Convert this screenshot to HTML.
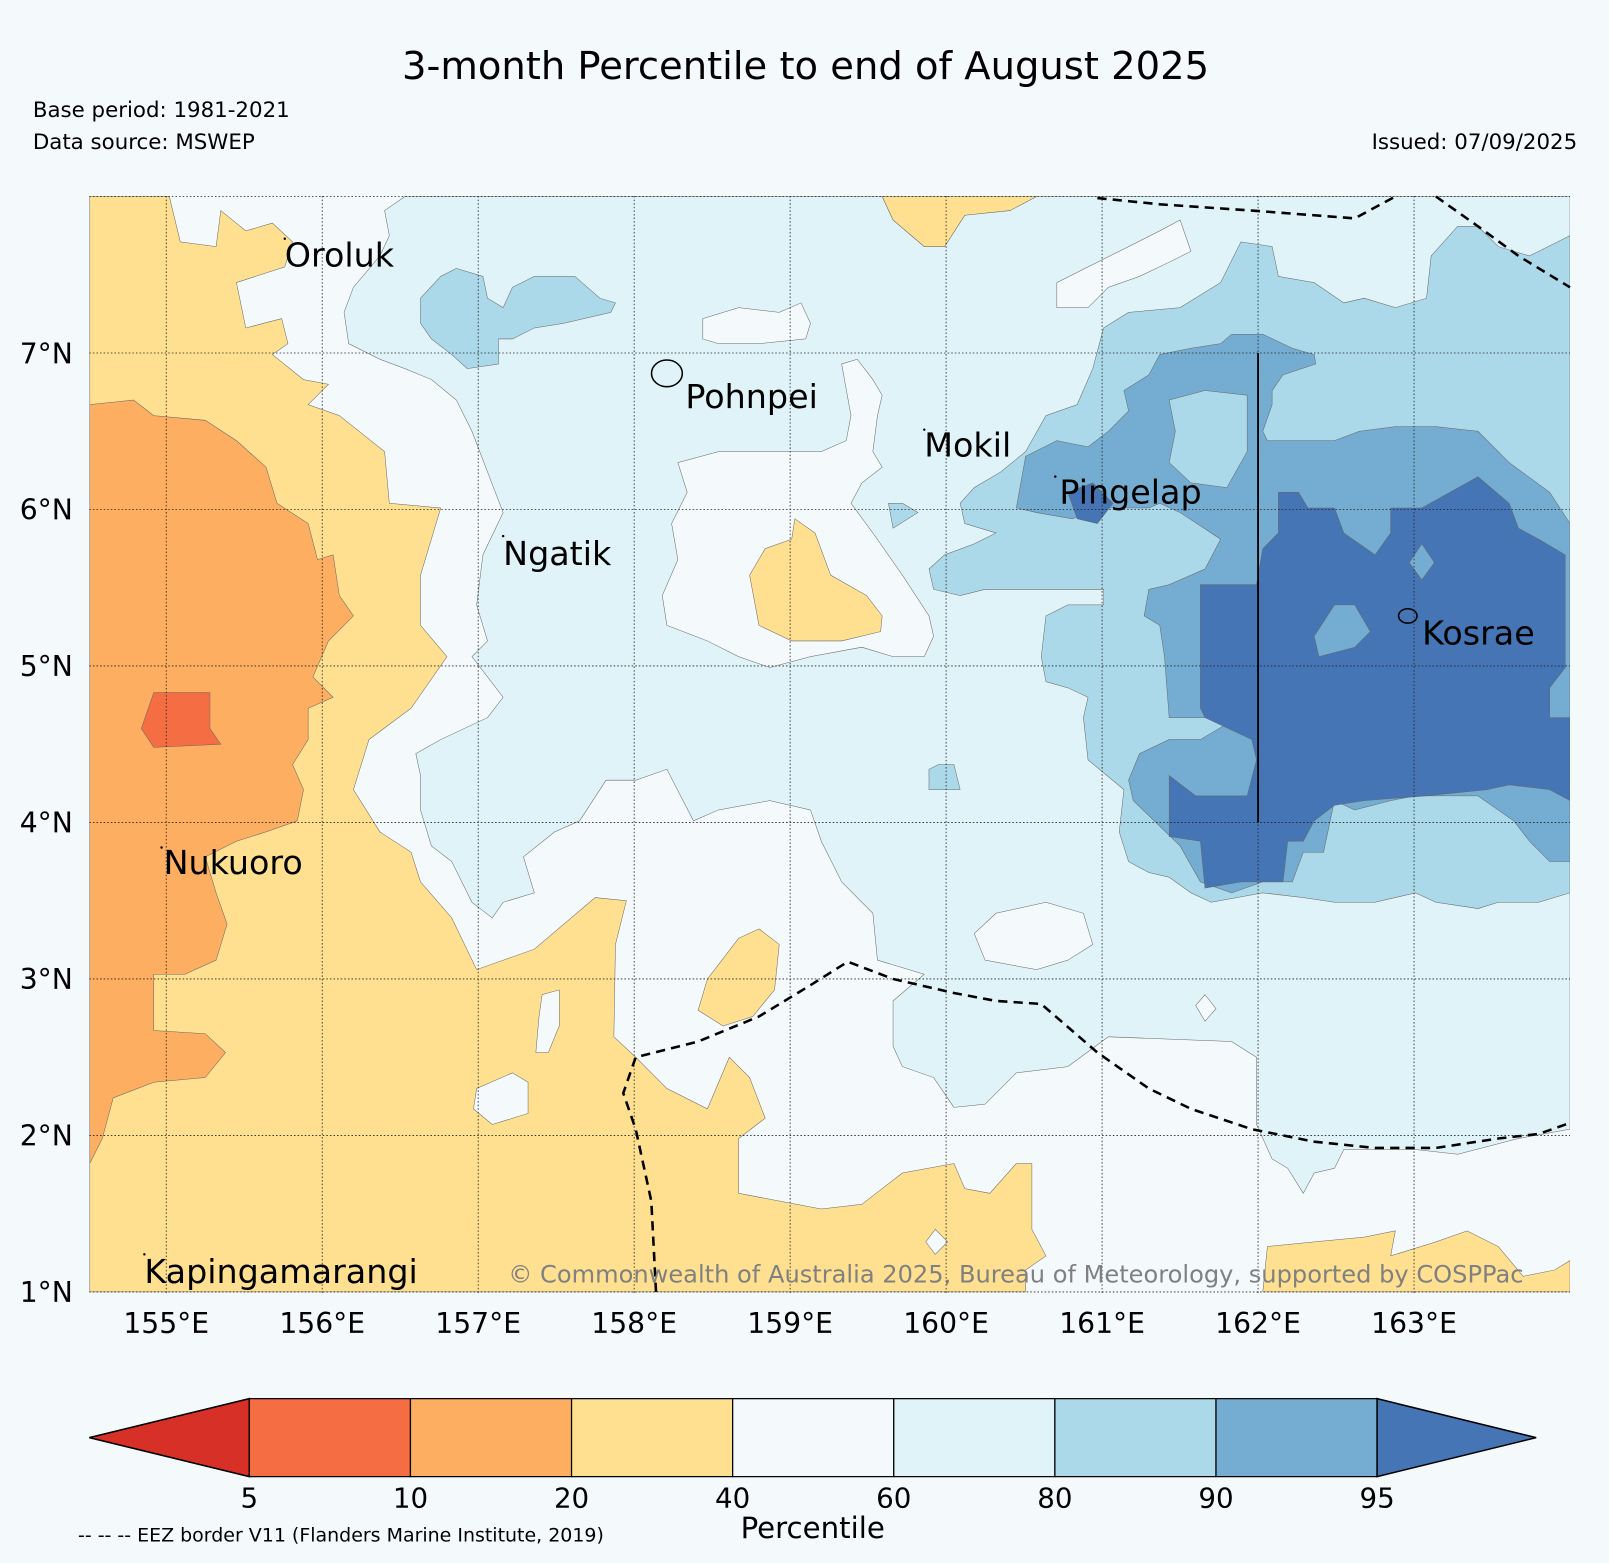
<!DOCTYPE html>
<html><head><meta charset="utf-8"><style>
html,body{margin:0;padding:0;background:#f4f9fc;}
svg{display:block;font-family:"DejaVu Sans","Liberation Sans",sans-serif;}
</style></head><body>
<svg id="chart" width="1609" height="1563" viewBox="0 0 1609 1563" xmlns="http://www.w3.org/2000/svg">
<rect width="1609" height="1563" fill="#f4f9fc"/>
<defs><clipPath id="mapclip"><rect x="87" y="191" width="1443" height="1069"/></clipPath></defs>
<g transform="scale(1.02615)">
<text x="785" y="77" font-size="37.5" text-anchor="middle">3-month Percentile to end of August 2025</text>
<text x="32" y="114" font-size="20.8">Base period: 1981-2021</text>
<text x="32" y="145" font-size="20.8">Data source: MSWEP</text>
<text x="1537" y="145" font-size="20.8" text-anchor="end">Issued: 07/09/2025</text>
<g id="map" clip-path="url(#mapclip)"></g>
<g id="overlay"></g>
<g id="axes"></g>
<g id="cbar"></g>
<text x="76" y="1502" font-size="18.5">-- -- -- EEZ border V11 (Flanders Marine Institute, 2019)</text>
</g>
</svg>
<script>
// ---- data (lon, lat pairs) ----
const lonTicks = [155,156,157,158,159,160,161,162,163];
const latTicks = [1,2,3,4,5,6,7];
const cbarBounds = [5,10,20,40,60,80,90,95];
const cbarColors = ["#d73027","#f46d43","#fdae61","#fee090","#f4f9fc","#e0f3f8","#abd9e9","#74add1","#4575b4"];
const cls = {white:"#f4f9fc",lb:"#e0f3f8",mb:"#abd9e9",b:"#74add1",db:"#4575b4",y:"#fee090",o:"#fdae61",r:"#f46d43"};

const lightBlueMain = [[156.40,7.91],[156.53,8.0],[159.59,8.0],[159.66,7.85],[159.86,7.68],[159.99,7.68],[160.12,7.88],[160.58,8.0],[164.0,8.0],[164.0,2.04],[163.67,1.98],[163.28,1.88],[163.01,1.91],[162.55,1.91],[162.49,1.79],[162.36,1.76],[162.29,1.63],[162.19,1.79],[162.09,1.85],[161.99,2.07],[161.99,2.50],[161.83,2.60],[161.04,2.63],[160.78,2.44],[160.45,2.40],[160.25,2.20],[160.05,2.18],[159.92,2.37],[159.72,2.44],[159.66,2.57],[159.66,2.86],[159.86,3.03],[159.56,3.12],[159.53,3.42],[159.33,3.62],[159.20,3.88],[159.13,4.08],[158.87,4.14],[158.54,4.08],[158.38,4.01],[158.21,4.34],[158.01,4.27],[157.82,4.27],[157.65,4.01],[157.49,3.94],[157.29,3.78],[157.36,3.55],[157.16,3.49],[157.09,3.39],[156.96,3.49],[156.83,3.75],[156.70,3.85],[156.63,4.08],[156.63,4.30],[156.60,4.44],[156.76,4.53],[157.06,4.67],[157.16,4.80],[156.96,5.06],[157.06,5.16],[156.99,5.39],[157.03,5.71],[157.16,5.98],[157.06,6.24],[156.96,6.50],[156.86,6.70],[156.70,6.83],[156.53,6.90],[156.37,6.96],[156.17,7.06],[156.14,7.26],[156.20,7.42],[156.37,7.62],[156.43,7.75]];
const whiteCentral = [[158.28,6.30],[158.54,6.37],[158.93,6.37],[159.20,6.37],[159.36,6.44],[159.39,6.60],[159.33,6.93],[159.43,6.96],[159.53,6.83],[159.59,6.73],[159.56,6.60],[159.53,6.37],[159.59,6.27],[159.46,6.17],[159.39,6.04],[159.53,5.85],[159.72,5.58],[159.89,5.32],[159.92,5.19],[159.86,5.06],[159.66,5.06],[159.46,5.12],[159.13,5.06],[158.87,4.99],[158.67,5.06],[158.47,5.16],[158.21,5.26],[158.18,5.45],[158.28,5.68],[158.24,5.91],[158.34,6.11]];
const whitePohnpei = [[158.44,7.22],[158.67,7.29],[158.93,7.26],[159.07,7.32],[159.13,7.19],[159.10,7.09],[158.80,7.06],[158.54,7.06],[158.44,7.09]];
const whiteTopRight = [[160.71,7.45],[160.91,7.55],[161.17,7.68],[161.37,7.78],[161.50,7.85],[161.57,7.65],[161.43,7.58],[161.24,7.49],[161.04,7.42],[160.91,7.29],[160.71,7.29]];
const whiteFarRight = [[163.51,7.26],[163.80,7.29],[163.90,7.09],[163.74,7.03],[163.54,7.09]];
const whiteBottomMid = [[160.18,3.29],[160.32,3.42],[160.64,3.49],[160.88,3.42],[160.94,3.22],[160.78,3.12],[160.58,3.06],[160.25,3.12]];
const whiteDiamond = [[161.60,2.83],[161.66,2.90],[161.73,2.81],[161.66,2.73]];
const midBlueLeft = [[156.63,7.35],[156.76,7.49],[156.86,7.54],[157.03,7.49],[157.06,7.35],[157.16,7.29],[157.22,7.42],[157.36,7.49],[157.62,7.49],[157.78,7.35],[157.88,7.32],[157.85,7.26],[157.55,7.19],[157.36,7.16],[157.22,7.09],[157.13,7.09],[157.13,6.93],[156.93,6.90],[156.83,6.99],[156.70,7.09],[156.63,7.19]];
const midBlueRight = [[160.09,6.04],[160.18,6.14],[160.35,6.24],[160.51,6.37],[160.64,6.60],[160.84,6.67],[160.94,6.90],[161.01,7.16],[161.17,7.26],[161.50,7.29],[161.76,7.45],[161.89,7.71],[162.09,7.68],[162.13,7.49],[162.36,7.45],[162.55,7.32],[162.68,7.35],[162.88,7.29],[163.08,7.35],[163.11,7.62],[163.28,7.81],[163.41,7.81],[163.54,7.68],[163.74,7.62],[164.0,7.75],[164.0,3.55],[163.80,3.49],[163.54,3.49],[163.41,3.45],[163.14,3.49],[163.01,3.55],[162.75,3.49],[162.49,3.49],[162.29,3.52],[162.03,3.55],[161.70,3.49],[161.57,3.55],[161.43,3.65],[161.30,3.68],[161.17,3.75],[161.11,3.94],[161.14,4.21],[160.91,4.40],[160.88,4.67],[160.91,4.80],[160.78,4.86],[160.64,4.90],[160.61,5.06],[160.64,5.32],[160.78,5.39],[161.01,5.39],[161.01,5.49],[160.25,5.49],[160.09,5.45],[159.92,5.49],[159.89,5.62],[159.99,5.71],[160.18,5.78],[160.32,5.85],[160.12,5.91]];
const midBlueSmallA = [[159.89,4.34],[159.95,4.37],[160.05,4.37],[160.09,4.21],[159.89,4.21]];
const midBlueSmallB = [[159.63,6.04],[159.72,6.04],[159.82,5.98],[159.66,5.88]];
const blueMain = [[160.45,6.01],[160.51,6.34],[160.71,6.44],[160.91,6.40],[161.04,6.50],[161.17,6.63],[161.14,6.76],[161.30,6.86],[161.37,6.99],[161.57,7.03],[161.76,7.06],[161.83,7.12],[162.03,7.12],[162.22,7.03],[162.36,6.99],[162.37,6.93],[162.16,6.86],[162.09,6.76],[162.09,6.67],[162.03,6.50],[162.06,6.44],[162.49,6.44],[162.65,6.50],[162.88,6.53],[163.14,6.53],[163.41,6.50],[163.61,6.30],[163.87,6.11],[164.0,5.91],[164.0,3.75],[163.87,3.75],[163.74,3.88],[163.64,4.01],[163.41,4.17],[163.01,4.17],[162.85,4.14],[162.62,4.08],[162.49,4.14],[162.42,3.81],[162.29,3.81],[162.22,3.62],[162.03,3.62],[161.83,3.55],[161.63,3.62],[161.50,3.85],[161.20,4.14],[161.17,4.27],[161.24,4.44],[161.43,4.53],[161.63,4.53],[161.80,4.63],[161.80,4.67],[161.43,4.67],[161.40,5.06],[161.37,5.26],[161.27,5.32],[161.30,5.49],[161.43,5.52],[161.66,5.62],[161.76,5.81],[161.70,5.85],[161.50,5.98],[161.37,6.04],[161.30,6.01],[160.97,6.01],[160.81,5.94],[160.58,5.98]];
const blueHole = [[161.43,6.70],[161.66,6.76],[161.93,6.73],[161.93,6.37],[161.80,6.14],[161.57,6.17],[161.43,6.30],[161.47,6.50]];
const darkBlueMain = [[161.63,5.52],[161.99,5.52],[162.03,5.75],[162.13,5.85],[162.13,6.11],[162.26,6.11],[162.32,6.01],[162.49,6.01],[162.55,5.85],[162.75,5.71],[162.85,5.85],[162.85,6.01],[163.05,6.01],[163.41,6.21],[163.61,6.04],[163.67,5.88],[163.80,5.81],[163.97,5.71],[163.97,4.99],[163.87,4.86],[163.87,4.67],[164.0,4.67],[164.0,4.14],[163.87,4.21],[163.61,4.24],[163.47,4.21],[163.08,4.17],[162.68,4.14],[162.49,4.11],[162.36,4.01],[162.29,3.88],[162.19,3.88],[162.16,3.62],[161.89,3.62],[161.66,3.58],[161.63,3.88],[161.43,3.91],[161.43,4.30],[161.60,4.17],[161.93,4.17],[161.99,4.40],[161.96,4.53],[161.66,4.67],[161.63,4.73]];
const darkBlueHoleA = [[162.36,5.19],[162.49,5.39],[162.62,5.39],[162.72,5.22],[162.62,5.12],[162.39,5.06]];
const darkBlueHoleB = [[163.05,5.78],[163.13,5.66],[163.05,5.55],[162.97,5.66]];
const darkBluePingelap = [[160.78,6.11],[160.94,6.17],[161.07,6.04],[160.97,5.91],[160.84,5.94]];
const yellowLeft = [[154.51,8.0],[155.02,8.0],[155.09,7.71],[155.32,7.68],[155.35,7.91],[155.51,7.78],[155.68,7.83],[155.81,7.71],[155.76,7.55],[155.45,7.45],[155.51,7.16],[155.74,7.22],[155.78,7.06],[155.68,6.99],[155.88,6.83],[156.04,6.80],[155.91,6.67],[156.11,6.60],[156.40,6.37],[156.43,6.04],[156.76,6.01],[156.63,5.58],[156.63,5.26],[156.80,5.06],[156.57,4.73],[156.30,4.53],[156.20,4.21],[156.37,3.94],[156.57,3.81],[156.63,3.62],[156.83,3.39],[156.99,3.06],[157.36,3.19],[157.75,3.52],[157.95,3.50],[157.88,3.22],[157.87,2.63],[158.01,2.50],[158.21,2.30],[158.47,2.17],[158.61,2.50],[158.74,2.37],[158.84,2.11],[158.67,1.98],[158.67,1.63],[159.20,1.53],[159.46,1.56],[159.72,1.76],[160.05,1.82],[160.12,1.66],[160.28,1.63],[160.45,1.82],[160.55,1.82],[160.55,1.40],[160.64,1.23],[160.51,1.14],[160.51,1.00],[154.51,1.00]];
const yellowHoleA = [[156.99,2.30],[157.22,2.40],[157.32,2.34],[157.32,2.14],[157.09,2.07],[156.97,2.17]];
const yellowHoleB = [[157.41,2.90],[157.52,2.93],[157.52,2.70],[157.45,2.53],[157.37,2.53],[157.39,2.76]];
const yellowHoleC = [[159.87,1.32],[159.93,1.40],[160.01,1.32],[159.93,1.24]];
const yellowTop = [[159.59,8.0],[159.66,7.85],[159.86,7.68],[159.99,7.68],[160.12,7.88],[160.41,7.91],[160.58,8.0]];
const yellowCenter = [[159.03,5.94],[159.16,5.85],[159.26,5.58],[159.49,5.45],[159.59,5.32],[159.58,5.22],[159.33,5.16],[159.01,5.16],[158.80,5.26],[158.74,5.58],[158.84,5.75],[159.01,5.81]];
const yellowSouth = [[158.80,3.32],[158.93,3.22],[158.90,2.93],[158.76,2.76],[158.57,2.70],[158.41,2.80],[158.47,3.00],[158.67,3.26]];
const yellowSE = [[162.03,1.0],[162.06,1.29],[162.36,1.32],[162.68,1.35],[162.88,1.39],[162.85,1.23],[163.14,1.32],[163.34,1.39],[163.54,1.29],[163.70,1.10],[163.90,1.14],[164.0,1.20],[164.0,1.0]];
const orangeLeft = [[154.51,6.67],[154.79,6.70],[154.92,6.60],[155.25,6.57],[155.45,6.44],[155.64,6.27],[155.71,6.04],[155.91,5.91],[155.97,5.68],[156.07,5.71],[156.11,5.45],[156.20,5.32],[156.04,5.16],[155.94,4.93],[156.07,4.80],[155.91,4.73],[155.91,4.53],[155.81,4.37],[155.88,4.21],[155.84,4.01],[155.64,3.94],[155.45,3.88],[155.25,3.78],[155.32,3.55],[155.39,3.35],[155.32,3.12],[155.12,3.03],[154.92,3.03],[154.92,2.67],[155.25,2.65],[155.38,2.53],[155.25,2.37],[154.92,2.34],[154.66,2.24],[154.59,1.98],[154.51,1.82]];
const redPatch = [[154.92,4.83],[155.28,4.83],[155.28,4.60],[155.35,4.50],[154.92,4.48],[154.84,4.60]];
const eezNorth = [[160.97,7.99],[161.37,7.95],[161.96,7.91],[162.62,7.86],[162.88,8.0]];
const eezNorthEast = [[163.14,8.0],[163.41,7.81],[163.67,7.62],[164.0,7.42]];
const eezSouth = [[158.14,1.0],[158.11,1.58],[158.01,2.04],[157.93,2.27],[158.01,2.50],[158.41,2.60],[158.80,2.76],[159.13,2.96],[159.37,3.11],[159.66,3.0],[160.05,2.91],[160.32,2.86],[160.61,2.84],[160.97,2.53],[161.30,2.30],[161.57,2.17],[161.96,2.04],[162.36,1.96],[162.75,1.92],[163.14,1.92],[163.54,1.98],[163.80,2.01],[164.0,2.08]];
const islandNames = ["Oroluk","Pohnpei","Mokil","Pingelap","Ngatik","Kosrae","Nukuoro","Kapingamarangi"];
const islandLon = [155.76,158.21,159.86,160.70,157.16,162.96,154.97,154.86];
const islandLat = [7.73,6.87,6.51,6.21,5.83,5.32,3.84,1.24];

// ---- scales ----
const X = lon => 162 + (lon - 155) * 152;
const Y = lat => 344 + (7 - lat) * 152.5;
const NS = "http://www.w3.org/2000/svg";
const pts = arr => arr.map(p => X(p[0]).toFixed(1) + "," + Y(p[1]).toFixed(1)).join(" ");
function poly(parent, arr, fill, name) {
  const e = document.createElementNS(NS, "polygon");
  e.setAttribute("points", pts(arr));
  e.setAttribute("fill", fill);
  e.setAttribute("stroke", "#666");
  e.setAttribute("stroke-width", "0.5");
  
  
  parent.appendChild(e);
}
function txt(parent, x, y, s, size, anchor, name, fill) {
  const t = document.createElementNS(NS, "text");
  t.setAttribute("x", x); t.setAttribute("y", y);
  t.setAttribute("font-size", size);
  t.setAttribute("text-anchor", anchor);
  if (fill) t.setAttribute("fill", fill);
  t.textContent = s;
  
  
  parent.appendChild(t);
  return t;
}
const map = document.getElementById("map");
const bg = document.createElementNS(NS, "rect");
bg.setAttribute("x", 87); bg.setAttribute("y", 191); bg.setAttribute("width", 1443); bg.setAttribute("height", 1069);
bg.setAttribute("fill", cls.white);


map.appendChild(bg);

poly(map, lightBlueMain, cls.lb, "percentile-60-80-region");
[whiteCentral, whitePohnpei, whiteTopRight, whiteFarRight, whiteBottomMid, whiteDiamond].forEach(a => poly(map, a, cls.white, "percentile-40-60-region"));
[midBlueLeft, midBlueRight, midBlueSmallA, midBlueSmallB].forEach(a => poly(map, a, cls.mb, "percentile-80-90-region"));
poly(map, blueMain, cls.b, "percentile-90-95-region");
poly(map, blueHole, cls.mb, "percentile-80-90-region");
poly(map, darkBlueMain, cls.db, "percentile-above-95-region");
poly(map, darkBluePingelap, cls.db, "percentile-above-95-region");
poly(map, darkBlueHoleA, cls.b, "percentile-90-95-region");
poly(map, darkBlueHoleB, cls.b, "percentile-90-95-region");
[yellowLeft, yellowTop, yellowCenter, yellowSouth, yellowSE].forEach(a => poly(map, a, cls.y, "percentile-20-40-region"));
[yellowHoleA, yellowHoleB, yellowHoleC].forEach(a => poly(map, a, cls.white, "percentile-40-60-region"));
poly(map, orangeLeft, cls.o, "percentile-10-20-region");
poly(map, redPatch, cls.r, "percentile-5-10-region");

// grid
const ov = document.getElementById("overlay");
lonTicks.forEach(l => {
  const g = document.createElementNS(NS, "line");
  g.setAttribute("x1", X(l)); g.setAttribute("x2", X(l)); g.setAttribute("y1", 191); g.setAttribute("y2", 1260);
  g.setAttribute("stroke", "#222"); g.setAttribute("stroke-width", "0.8"); g.setAttribute("stroke-dasharray", "1.5,2");
  
  
  ov.appendChild(g);
});
latTicks.concat([8]).forEach(l => {
  const g = document.createElementNS(NS, "line");
  g.setAttribute("x1", 87); g.setAttribute("x2", 1530); g.setAttribute("y1", Y(l)); g.setAttribute("y2", Y(l));
  g.setAttribute("stroke", "#222"); g.setAttribute("stroke-width", "0.8"); g.setAttribute("stroke-dasharray", "1.5,2");
  
  
  ov.appendChild(g);
});
// EEZ
[eezNorth, eezNorthEast, eezSouth].forEach(a => {
  const e = document.createElementNS(NS, "polyline");
  e.setAttribute("points", pts(a));
  e.setAttribute("fill", "none"); e.setAttribute("stroke", "#000"); e.setAttribute("stroke-width", "2.5"); e.setAttribute("stroke-dasharray", "9,6");
  
  
  ov.appendChild(e);
});
// Kosrae meridian line
const kl = document.createElementNS(NS, "line");
kl.setAttribute("x1", X(162)); kl.setAttribute("x2", X(162)); kl.setAttribute("y1", Y(7)); kl.setAttribute("y2", Y(4));
kl.setAttribute("stroke", "#000"); kl.setAttribute("stroke-width", "1.8");


ov.appendChild(kl);
// islands
const labelOff = [[0,27],[18,34],[0,26],[4,26],[0,28],[14,28],[2,26],[0,28]];
islandNames.forEach((n, i) => {
  const cx = X(islandLon[i]), cy = Y(islandLat[i]);
  const big = (n === "Pohnpei" || n === "Kosrae");
  const m = document.createElementNS(NS, big ? "ellipse" : "circle");
  if (big) {
    m.setAttribute("cx", cx); m.setAttribute("cy", cy);
    m.setAttribute("rx", n === "Pohnpei" ? 15 : 9); m.setAttribute("ry", n === "Pohnpei" ? 13 : 7);
    m.setAttribute("fill", "none"); m.setAttribute("stroke", "#000"); m.setAttribute("stroke-width", "1.5");
  } else {
    m.setAttribute("cx", cx); m.setAttribute("cy", cy); m.setAttribute("r", 1.2); m.setAttribute("fill", "#000");
  }
  
  
  ov.appendChild(m);
  txt(ov, cx + labelOff[i][0], cy + labelOff[i][1], n, 32.5, "start", "island-label");
});
txt(ov, 990, 1250, "© Commonwealth of Australia 2025, Bureau of Meteorology, supported by COSPPac", 23.5, "middle", "copyright-note", "#808080");

// axes labels
const ax = document.getElementById("axes");
lonTicks.forEach(l => txt(ax, X(l), 1299, l + "°E", 27.5, "middle", "x-tick-label"));
latTicks.forEach(l => txt(ax, 71, Y(l) + 10, l + "°N", 27.5, "end", "y-tick-label"));

// colorbar
const cb = document.getElementById("cbar");
const cx0 = 243, cw = 157, cyTop = 1363, ch = 76;
const lt = document.createElementNS(NS, "polygon");
lt.setAttribute("points", `87,${cyTop+ch/2} ${cx0},${cyTop} ${cx0},${cyTop+ch}`);
lt.setAttribute("fill", cbarColors[0]); lt.setAttribute("stroke", "#000"); lt.setAttribute("stroke-width", "1.5");


cb.appendChild(lt);
for (let i = 0; i < cbarBounds.length - 1; i++) {
  const r = document.createElementNS(NS, "rect");
  r.setAttribute("x", cx0 + i * cw); r.setAttribute("y", cyTop); r.setAttribute("width", cw); r.setAttribute("height", ch);
  r.setAttribute("fill", cbarColors[i + 1]); r.setAttribute("stroke", "#000"); r.setAttribute("stroke-width", "1.2");
  
  
  cb.appendChild(r);
}
const xr = cx0 + (cbarBounds.length - 1) * cw;
const rt = document.createElementNS(NS, "polygon");
rt.setAttribute("points", `${xr},${cyTop} 1497,${cyTop+ch/2} ${xr},${cyTop+ch}`);
rt.setAttribute("fill", cbarColors[8]); rt.setAttribute("stroke", "#000"); rt.setAttribute("stroke-width", "1.5");


cb.appendChild(rt);
cbarBounds.forEach((b, i) => txt(cb, cx0 + i * cw, 1469, String(b), 27, "middle", "colorbar-tick-label"));
txt(cb, 792, 1499, "Percentile", 28.5, "middle", "colorbar-title");
</script>
</body></html>
